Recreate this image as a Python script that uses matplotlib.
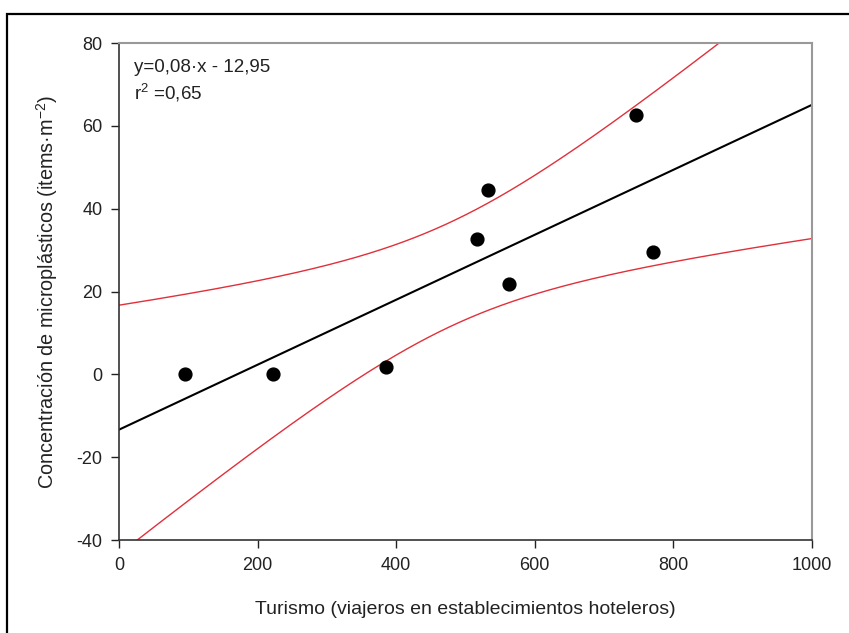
import numpy as np
import matplotlib
matplotlib.use('Agg')
from matplotlib import pyplot as plt
from matplotlib.patches import Rectangle

plt.rcParams['font.family'] = ['Liberation Sans', 'DejaVu Sans']
plt.rcParams['axes.unicode_minus'] = False
plt.rcParams['mathtext.fontset'] = 'custom'
plt.rcParams['mathtext.rm'] = 'Liberation Sans'
plt.rcParams['mathtext.it'] = 'Liberation Sans'

#Data
turismo = [95, 222, 385, 516, 532, 563, 746, 770]
microplasticos = [0.2, 0.1, 1.8, 32.8, 44.6, 21.7, 62.7, 29.6]
x_ticks = [0, 200, 400, 600, 800, 1000]
y_ticks = [-40, -20, 0, 20, 40, 60, 80]
eq_text = 'y=0,08·x - 12,95'
r2_text = 'r$^2$ =0,65'

#Regression + 95% confidence band of the mean
x = np.array(turismo, dtype=float)
y = np.array(microplasticos, dtype=float)
n = len(x)
slope, intercept = np.polyfit(x, y, 1)
resid = y - (slope*x + intercept)
s = np.sqrt(np.sum(resid**2)/(n-2))
sxx = np.sum((x - x.mean())**2)
t_crit = 2.447  # t(0.975, df=6)
xf = np.linspace(0, 1000, 400)
yf = slope*xf + intercept
half = t_crit*s*np.sqrt(1/n + (xf - x.mean())**2/sxx)

fig = plt.figure(figsize=(8.49, 6.33), dpi=100)
ax = fig.add_axes([0.1402, 0.1469, 0.8162, 0.7851])

ax.plot(xf, yf + half, color='#e0303a', linewidth=1.0)
ax.plot(xf, yf - half, color='#e0303a', linewidth=1.0)
ax.plot(xf, yf, color='black', linewidth=1.5)
ax.scatter(x, y, s=85, color='black', zorder=5)

ax.set_xlim(0, 1000)
ax.set_ylim(-40, 80)
ax.set_xticks(x_ticks)
ax.set_yticks(y_ticks)
ax.tick_params(direction='out', length=6, width=1, labelsize=13, colors='#222222', pad=6)
for side in ['left', 'bottom']:
    ax.spines[side].set_color('#333333')
    ax.spines[side].set_linewidth(1.2)
for side in ['top', 'right']:
    ax.spines[side].set_color('#999999')
    ax.spines[side].set_linewidth(1.5)

ax.set_xlabel('Turismo (viajeros en establecimientos hoteleros)', fontsize=14, color='#222222', labelpad=20)
ax.set_ylabel('Concentración de microplásticos (items·m$^{-2}$)', fontsize=14.3, color='#222222', labelpad=12)

ax.text(0.022, 0.967, eq_text, transform=ax.transAxes, fontsize=13.5, va='top', ha='left', color='#222222')
ax.text(0.022, 0.922, r2_text, transform=ax.transAxes, fontsize=13.5, va='top', ha='left', color='#222222')

#outer frame (runs off the right and bottom edges)
fig.patches.append(Rectangle((7/849, -0.1), 1.2, 1 - 14/633 + 0.1, transform=fig.transFigure,
                             fill=False, edgecolor='black', linewidth=1.6))

fig.savefig('out.png', dpi=100)
